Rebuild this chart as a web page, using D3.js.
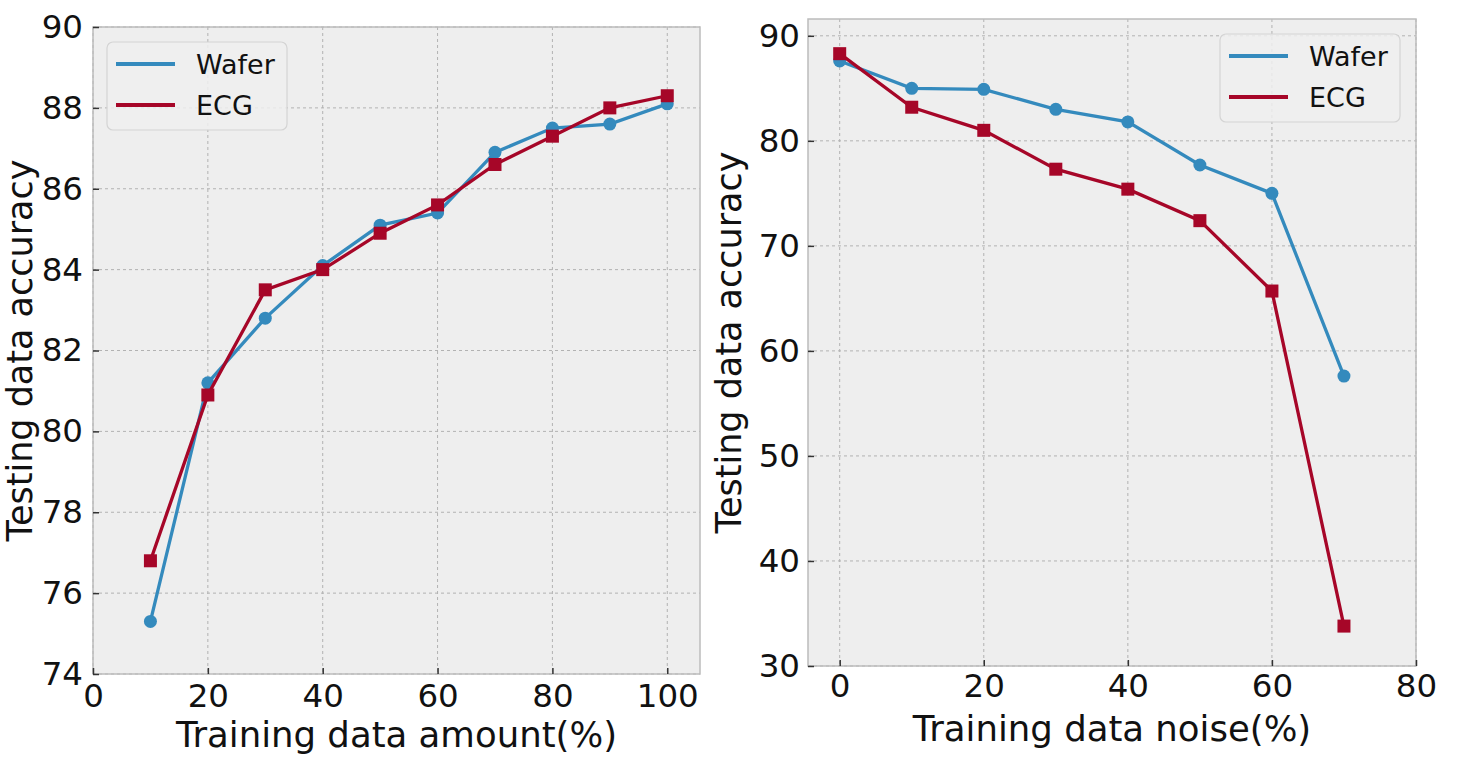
<!DOCTYPE html>
<html>
<head>
<meta charset="utf-8">
<script src="https://cdn.jsdelivr.net/npm/d3@7"></script>
<style>
  body { margin: 0; background: #fff; }
  text { font-family: "DejaVu Sans", sans-serif; fill: #111; }
</style>
</head>
<body>
<div id="chart"></div>
<script>
// data
var amountX = [10, 20, 30, 40, 50, 60, 70, 80, 90, 100];
var amountWafer = [75.3, 81.2, 82.8, 84.1, 85.1, 85.4, 86.9, 87.5, 87.6, 88.1];
var amountECG = [76.8, 80.9, 83.5, 84.0, 84.9, 85.6, 86.6, 87.3, 88.0, 88.3];
var amountXTicks = [0, 20, 40, 60, 80, 100];
var amountYTicks = [74, 76, 78, 80, 82, 84, 86, 88, 90];

var noiseX = [0, 10, 20, 30, 40, 50, 60, 70];
var noiseWafer = [87.6, 85.0, 84.9, 83.0, 81.8, 77.7, 75.0, 57.6];
var noiseECG = [88.3, 83.2, 81.0, 77.3, 75.4, 72.4, 65.7, 33.8];
var noiseXTicks = [0, 20, 40, 60, 80];
var noiseYTicks = [30, 40, 50, 60, 70, 80, 90];

var seriesNames = ["Wafer", "ECG"];
var colors = {Wafer: "#348ABD", ECG: "#A60628"};

var svg = d3.select("#chart")
  .append("svg")
  .attr("width", 1462)
  .attr("height", 768);

function drawPanel(opt) {
  var x = d3.scaleLinear().domain(opt.xDomain).range([opt.left, opt.right]);
  var y = d3.scaleLinear().domain(opt.yDomain).range([opt.bottom, opt.top]);
  var g = svg.append("g");

  // plot background
  g.append("rect")
    .attr("x", opt.left).attr("y", opt.top)
    .attr("width", opt.right - opt.left)
    .attr("height", opt.bottom - opt.top)
    .attr("fill", "#eeeeee");

  // grid
  g.selectAll(".vgrid").data(opt.xTicks).enter().append("line")
    .attr("x1", d => x(d)).attr("x2", d => x(d))
    .attr("y1", opt.top).attr("y2", opt.bottom)
    .attr("stroke", "#b2b2b2").attr("stroke-width", 1)
    .attr("stroke-dasharray", "3,3");
  g.selectAll(".hgrid").data(opt.yTicks).enter().append("line")
    .attr("x1", opt.left).attr("x2", opt.right)
    .attr("y1", d => y(d)).attr("y2", d => y(d))
    .attr("stroke", "#b2b2b2").attr("stroke-width", 1)
    .attr("stroke-dasharray", "3,3");

  // frame
  g.append("rect")
    .attr("x", opt.left).attr("y", opt.top)
    .attr("width", opt.right - opt.left)
    .attr("height", opt.bottom - opt.top)
    .attr("fill", "none")
    .attr("stroke", "#bcbcbc").attr("stroke-width", 1.5);

  // axes, ticks point inward
  var xAxis = g.append("g")
    .attr("transform", `translate(0, ${opt.bottom})`)
    .call(d3.axisBottom(x).tickValues(opt.xTicks).tickSizeInner(-6).tickSizeOuter(0).tickPadding(opt.xPad));
  var yAxis = g.append("g")
    .attr("transform", `translate(${opt.left}, 0)`)
    .call(d3.axisLeft(y).tickValues(opt.yTicks).tickSizeInner(-6).tickSizeOuter(0).tickPadding(opt.yPad));
  [xAxis, yAxis].forEach(function(a) {
    a.select(".domain").remove();
    a.selectAll(".tick line").attr("stroke", "#333").attr("stroke-width", 1.5);
    a.selectAll(".tick text")
      .style("font-family", "DejaVu Sans, sans-serif")
      .style("font-size", "32.5px")
      .attr("fill", "#111");
  });

  // lines and markers
  opt.series.forEach(function(s) {
    var pts = opt.xs.map((v, i) => [v, s.values[i]]);
    var line = d3.line().x(d => x(d[0])).y(d => y(d[1]));
    g.append("path")
      .datum(pts)
      .attr("d", line)
      .attr("fill", "none")
      .attr("stroke", colors[s.name])
      .attr("stroke-width", 3.3);
    if (s.name === "Wafer") {
      g.selectAll(".m" + s.name).data(pts).enter().append("circle")
        .attr("cx", d => x(d[0])).attr("cy", d => y(d[1]))
        .attr("r", 6.5)
        .attr("fill", colors[s.name]);
    } else {
      g.selectAll(".m" + s.name).data(pts).enter().append("rect")
        .attr("x", d => x(d[0]) - 6.5).attr("y", d => y(d[1]) - 6.5)
        .attr("width", 13).attr("height", 13)
        .attr("fill", colors[s.name]);
    }
  });

  // legend
  var lg = g.append("g").attr("transform", `translate(${opt.legendX}, ${opt.legendY})`);
  lg.append("rect")
    .attr("width", 180).attr("height", 88)
    .attr("rx", 6).attr("ry", 6)
    .attr("fill", "#efefef").attr("fill-opacity", 0.85)
    .attr("stroke", "#d4d4d4").attr("stroke-width", 1.2);
  seriesNames.forEach(function(n, i) {
    lg.append("line")
      .attr("x1", 9).attr("x2", 68)
      .attr("y1", 22 + i * 41).attr("y2", 22 + i * 41)
      .attr("stroke", colors[n]).attr("stroke-width", 4);
    lg.append("text")
      .attr("x", 89).attr("y", 22 + i * 41 + 10)
      .style("font-size", "27px")
      .text(n);
  });

  // axis labels
  g.append("text")
    .attr("x", (opt.left + opt.right) / 2).attr("y", opt.xLabelY)
    .attr("text-anchor", "middle")
    .style("font-size", "35.5px")
    .text(opt.xLabel);
  g.append("text")
    .attr("transform", `translate(${opt.yLabelX}, ${(opt.top + opt.bottom) / 2}) rotate(-90)`)
    .attr("text-anchor", "middle")
    .style("font-size", "35px")
    .text(opt.yLabel);
}

drawPanel({
  left: 93, right: 700, top: 27, bottom: 674,
  xDomain: [0, 105.7], yDomain: [74, 90],
  xTicks: amountXTicks, yTicks: amountYTicks,
  xPad: 10, yPad: 10,
  xs: amountX,
  series: [{name: "Wafer", values: amountWafer}, {name: "ECG", values: amountECG}],
  legendX: 107, legendY: 42,
  xLabel: "Training data amount(%)", xLabelY: 747,
  yLabel: "Testing data accuracy", yLabelX: 32
});

drawPanel({
  left: 808, right: 1416, top: 19, bottom: 666,
  xDomain: [-4.4, 80], yDomain: [30, 91.6],
  xTicks: noiseXTicks, yTicks: noiseYTicks,
  xPad: 8, yPad: 8,
  xs: noiseX,
  series: [{name: "Wafer", values: noiseWafer}, {name: "ECG", values: noiseECG}],
  legendX: 1220, legendY: 34,
  xLabel: "Training data noise(%)", xLabelY: 741,
  yLabel: "Testing data accuracy", yLabelX: 741
});
</script>
</body>
</html>
